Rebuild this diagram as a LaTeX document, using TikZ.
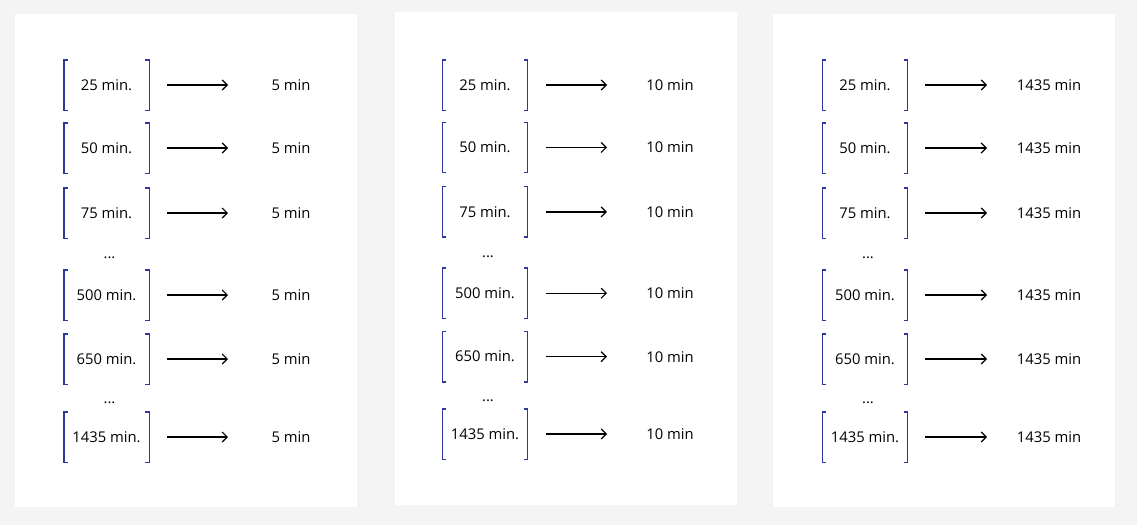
\documentclass[tikz,border=0pt]{standalone}
\usepackage{fontspec}
\setmainfont{Open Sans}
\usetikzlibrary{arrows.meta}
\definecolor{bgc}{HTML}{F4F4F4}
\definecolor{brkc}{RGB}{48,56,160}
\begin{document}
\begin{tikzpicture}[x=1pt,y=-1pt,
  font=\fontsize{14.8}{18}\selectfont,
  panelbox/.style={fill=white,draw=none},
  brbox/.style={minimum width=85pt,minimum height=50pt,inner sep=0pt},
  brk/.style={draw=brkc,line width=1.4pt},
  arr/.style={-{Straight Barb[length=5pt,width=10pt]},line width=1.2pt},
  outlab/.style={inner sep=0pt},
  dotlab/.style={inner sep=0pt}]
\fill[bgc] (0,0) rectangle (1137,525);
\useasboundingbox (0,0) rectangle (1137,525);
\foreach \p/\L/\T/\cx/\as/\ae/\lx/\out/\dy in
  {1/15/14/106.5/167/228/291/5/0,
   2/395/12/485/546/607/670/10/-3,
   3/773/14/865/925/987/1049/1435/0}{
  \fill[panelbox] (\L,\T) rectangle ++(342,493);
  \foreach \r/\y/\t in {1/85/25,2/148/50,3/213/75,4/295/500,5/359/650,6/437/1435}{
    \node[brbox] (b\p\r) at (\cx,{\y+\dy*(\y-85)/352}) {\t\ min.};
    \draw[brk] ([xshift=4]b\p\r.north west) -- (b\p\r.north west) -- (b\p\r.south west) -- ([xshift=4]b\p\r.south west);
    \draw[brk] ([xshift=-4]b\p\r.north east) -- (b\p\r.north east) -- (b\p\r.south east) -- ([xshift=-4]b\p\r.south east);
    \coordinate (s\p\r) at (\as,{\y+\dy*(\y-85)/352});
    \coordinate (e\p\r) at (\ae,{\y+\dy*(\y-85)/352});
    \draw[arr] (s\p\r) -- (e\p\r);
    \node[outlab] (o\p\r) at (\lx,{\y+\dy*(\y-85)/352}) {\out\ min};
  }
  \node[dotlab] (da\p) at (\cx+3,{258+\dy*(258-85)/352}) {...};
  \node[dotlab] (db\p) at (\cx+3,{403+\dy*(403-85)/352}) {...};
}
\end{tikzpicture}
\end{document}
